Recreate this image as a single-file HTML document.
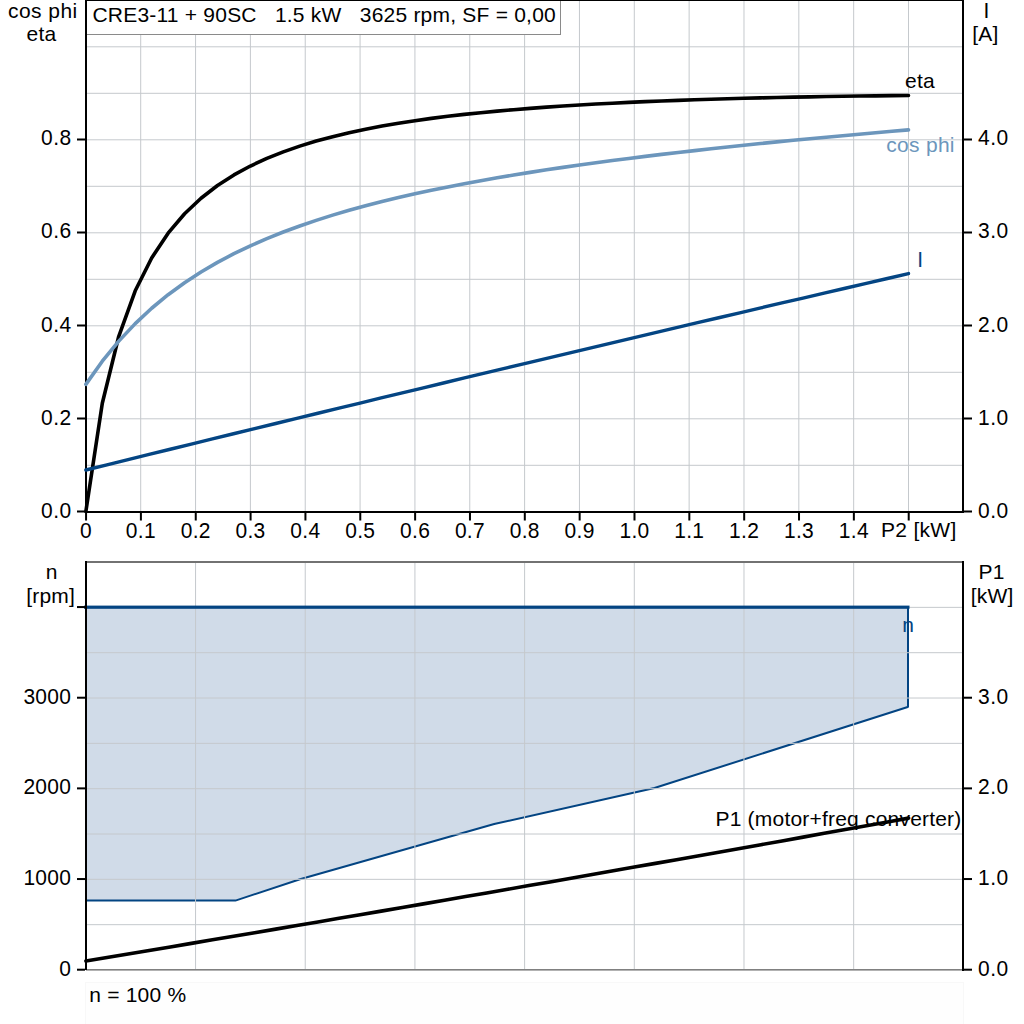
<!DOCTYPE html><html><head><meta charset="utf-8"><title>CRE3-11 + 90SC</title><style>html,body{margin:0;padding:0;background:#fff;overflow:hidden;}svg{display:block;}text{font-family:"Liberation Sans", Arial, sans-serif;font-size:21px;fill:#000;}</style></head><body>
<svg width="1024" height="1024" viewBox="0 0 1024 1024">
<rect x="0" y="0" width="1024" height="1024" fill="#fff"/>
<rect x="140.20" y="0" width="1" height="511" fill="#c5c9cd"/>
<rect x="195.05" y="0" width="1" height="511" fill="#c5c9cd"/>
<rect x="249.89" y="0" width="1" height="511" fill="#c5c9cd"/>
<rect x="304.73" y="0" width="1" height="511" fill="#c5c9cd"/>
<rect x="359.57" y="0" width="1" height="511" fill="#c5c9cd"/>
<rect x="414.42" y="0" width="1" height="511" fill="#c5c9cd"/>
<rect x="469.26" y="0" width="1" height="511" fill="#c5c9cd"/>
<rect x="524.10" y="0" width="1" height="511" fill="#c5c9cd"/>
<rect x="578.95" y="0" width="1" height="511" fill="#c5c9cd"/>
<rect x="633.79" y="0" width="1" height="511" fill="#c5c9cd"/>
<rect x="688.63" y="0" width="1" height="511" fill="#c5c9cd"/>
<rect x="743.48" y="0" width="1" height="511" fill="#c5c9cd"/>
<rect x="798.32" y="0" width="1" height="511" fill="#c5c9cd"/>
<rect x="853.16" y="0" width="1" height="511" fill="#c5c9cd"/>
<rect x="908.00" y="0" width="1" height="511" fill="#c5c9cd"/>
<rect x="87" y="464.80" width="875" height="1" fill="#c5c9cd"/>
<rect x="87" y="418.30" width="875" height="1" fill="#c5c9cd"/>
<rect x="87" y="371.80" width="875" height="1" fill="#c5c9cd"/>
<rect x="87" y="325.30" width="875" height="1" fill="#c5c9cd"/>
<rect x="87" y="278.80" width="875" height="1" fill="#c5c9cd"/>
<rect x="87" y="232.30" width="875" height="1" fill="#c5c9cd"/>
<rect x="87" y="185.80" width="875" height="1" fill="#c5c9cd"/>
<rect x="87" y="139.30" width="875" height="1" fill="#c5c9cd"/>
<rect x="87" y="92.80" width="875" height="1" fill="#c5c9cd"/>
<rect x="87" y="46.30" width="875" height="1" fill="#c5c9cd"/>
<rect x="86" y="0" width="474" height="34" fill="#fff"/>
<rect x="560" y="0" width="1" height="35" fill="#8a8a8a"/>
<rect x="86" y="34" width="475" height="1" fill="#8a8a8a"/>
<text x="92.40" y="22.00" style="letter-spacing:0.22px">CRE3-11 + 90SC&#160;&#160;&#160;1.5 kW&#160;&#160;&#160;3625 rpm, SF = 0,00</text>
<rect x="85" y="0" width="879" height="1" fill="#000"/>
<rect x="85" y="0" width="2" height="513" fill="#000"/>
<rect x="962" y="0" width="2" height="513" fill="#000"/>
<rect x="85" y="511" width="879" height="2" fill="#000"/>
<polyline points="85.86,511.50 102.31,403.25 118.77,336.27 135.22,290.80 151.67,257.95 168.12,233.14 184.58,213.76 201.03,198.24 217.48,185.53 233.94,174.95 250.39,166.03 266.84,158.40 283.29,151.83 299.75,146.10 316.20,141.08 332.65,136.65 349.11,132.72 365.56,129.21 382.01,126.06 398.47,123.23 414.92,120.67 431.37,118.38 447.82,116.31 464.28,114.41 480.73,112.69 497.18,111.11 513.64,109.67 530.09,108.35 546.54,107.14 562.99,106.02 579.45,105.00 595.90,104.05 612.35,103.18 628.81,102.38 645.26,101.65 661.71,100.97 678.16,100.34 694.62,99.76 711.07,99.23 727.52,98.74 743.98,98.29 760.43,97.88 776.88,97.50 793.33,97.16 809.79,96.84 826.24,96.55 842.69,96.29 859.15,96.06 875.60,95.84 892.05,95.65 908.50,95.48" fill="none" stroke="#000000" stroke-width="3.6" stroke-linejoin="round" stroke-linecap="round"/>
<polyline points="85.86,384.37 102.31,361.20 118.77,341.11 135.22,323.61 151.67,308.26 168.12,294.73 184.58,282.73 201.03,272.01 217.48,262.39 233.94,253.70 250.39,245.81 266.84,238.62 283.29,232.03 299.75,225.96 316.20,220.36 332.65,215.15 349.11,210.31 365.56,205.78 382.01,201.53 398.47,197.54 414.92,193.77 431.37,190.24 447.82,186.89 464.28,183.71 480.73,180.68 497.18,177.78 513.64,175.02 530.09,172.37 546.54,169.83 562.99,167.39 579.45,165.03 595.90,162.76 612.35,160.57 628.81,158.45 645.26,156.40 661.71,154.41 678.16,152.47 694.62,150.60 711.07,148.77 727.52,146.99 743.98,145.26 760.43,143.57 776.88,141.91 793.33,140.30 809.79,138.72 826.24,137.18 842.69,135.67 859.15,134.18 875.60,132.73 892.05,131.30 908.50,129.91" fill="none" stroke="#6c96bc" stroke-width="3.6" stroke-linejoin="round" stroke-linecap="round"/>
<polyline points="85.86,470.01 106.95,464.81 128.05,459.61 149.14,454.43 170.23,449.25 191.33,444.08 212.42,438.92 233.51,433.77 254.61,428.63 275.70,423.50 296.79,418.37 317.89,413.26 338.98,408.15 360.07,403.05 381.17,397.96 402.26,392.88 423.35,387.81 444.45,382.75 465.54,377.70 486.63,372.65 507.73,367.62 528.82,362.59 549.91,357.57 571.01,352.56 592.10,347.56 613.19,342.57 634.29,337.58 655.38,332.61 676.47,327.64 697.57,322.69 718.66,317.74 739.75,312.80 760.85,307.87 781.94,302.95 803.03,298.04 824.13,293.13 845.22,288.24 866.31,283.35 887.41,278.47 908.50,273.60" fill="none" stroke="#044583" stroke-width="3.4" stroke-linejoin="round" stroke-linecap="round"/>
<rect x="77" y="510.50" width="8" height="2" fill="#000"/>
<rect x="964" y="510.50" width="8" height="2" fill="#000"/>
<text transform="translate(71.90,518.00) scale(1,1.045)" x="0" y="0" text-anchor="end" style="letter-spacing:0.6px">0.0</text>
<text transform="translate(978.00,518.00) scale(1,1.045)" x="0" y="0" style="letter-spacing:0.5px">0.0</text>
<rect x="77" y="417.50" width="8" height="2" fill="#000"/>
<rect x="964" y="417.50" width="8" height="2" fill="#000"/>
<text transform="translate(71.90,425.00) scale(1,1.045)" x="0" y="0" text-anchor="end" style="letter-spacing:0.6px">0.2</text>
<text transform="translate(978.00,425.00) scale(1,1.045)" x="0" y="0" style="letter-spacing:0.5px">1.0</text>
<rect x="77" y="324.50" width="8" height="2" fill="#000"/>
<rect x="964" y="324.50" width="8" height="2" fill="#000"/>
<text transform="translate(71.90,332.00) scale(1,1.045)" x="0" y="0" text-anchor="end" style="letter-spacing:0.6px">0.4</text>
<text transform="translate(978.00,332.00) scale(1,1.045)" x="0" y="0" style="letter-spacing:0.5px">2.0</text>
<rect x="77" y="231.50" width="8" height="2" fill="#000"/>
<rect x="964" y="231.50" width="8" height="2" fill="#000"/>
<text transform="translate(71.90,238.00) scale(1,1.045)" x="0" y="0" text-anchor="end" style="letter-spacing:0.6px">0.6</text>
<text transform="translate(978.00,238.00) scale(1,1.045)" x="0" y="0" style="letter-spacing:0.5px">3.0</text>
<rect x="77" y="138.50" width="8" height="2" fill="#000"/>
<rect x="964" y="138.50" width="8" height="2" fill="#000"/>
<text transform="translate(71.90,145.00) scale(1,1.045)" x="0" y="0" text-anchor="end" style="letter-spacing:0.6px">0.8</text>
<text transform="translate(978.00,145.00) scale(1,1.045)" x="0" y="0" style="letter-spacing:0.5px">4.0</text>
<rect x="85.06" y="513" width="2" height="7.5" fill="#000"/>
<text transform="translate(86.01,538.00) scale(1,1.045)" x="0" y="0" text-anchor="middle" style="letter-spacing:0.3px">0</text>
<rect x="139.90" y="513" width="2" height="7.5" fill="#000"/>
<text transform="translate(140.85,538.00) scale(1,1.045)" x="0" y="0" text-anchor="middle" style="letter-spacing:0.3px">0.1</text>
<rect x="194.75" y="513" width="2" height="7.5" fill="#000"/>
<text transform="translate(195.70,538.00) scale(1,1.045)" x="0" y="0" text-anchor="middle" style="letter-spacing:0.3px">0.2</text>
<rect x="249.59" y="513" width="2" height="7.5" fill="#000"/>
<text transform="translate(250.54,538.00) scale(1,1.045)" x="0" y="0" text-anchor="middle" style="letter-spacing:0.3px">0.3</text>
<rect x="304.43" y="513" width="2" height="7.5" fill="#000"/>
<text transform="translate(305.38,538.00) scale(1,1.045)" x="0" y="0" text-anchor="middle" style="letter-spacing:0.3px">0.4</text>
<rect x="359.27" y="513" width="2" height="7.5" fill="#000"/>
<text transform="translate(360.22,538.00) scale(1,1.045)" x="0" y="0" text-anchor="middle" style="letter-spacing:0.3px">0.5</text>
<rect x="414.12" y="513" width="2" height="7.5" fill="#000"/>
<text transform="translate(415.07,538.00) scale(1,1.045)" x="0" y="0" text-anchor="middle" style="letter-spacing:0.3px">0.6</text>
<rect x="468.96" y="513" width="2" height="7.5" fill="#000"/>
<text transform="translate(469.91,538.00) scale(1,1.045)" x="0" y="0" text-anchor="middle" style="letter-spacing:0.3px">0.7</text>
<rect x="523.80" y="513" width="2" height="7.5" fill="#000"/>
<text transform="translate(524.75,538.00) scale(1,1.045)" x="0" y="0" text-anchor="middle" style="letter-spacing:0.3px">0.8</text>
<rect x="578.65" y="513" width="2" height="7.5" fill="#000"/>
<text transform="translate(579.60,538.00) scale(1,1.045)" x="0" y="0" text-anchor="middle" style="letter-spacing:0.3px">0.9</text>
<rect x="633.49" y="513" width="2" height="7.5" fill="#000"/>
<text transform="translate(634.44,538.00) scale(1,1.045)" x="0" y="0" text-anchor="middle" style="letter-spacing:0.3px">1.0</text>
<rect x="688.33" y="513" width="2" height="7.5" fill="#000"/>
<text transform="translate(689.28,538.00) scale(1,1.045)" x="0" y="0" text-anchor="middle" style="letter-spacing:0.3px">1.1</text>
<rect x="743.18" y="513" width="2" height="7.5" fill="#000"/>
<text transform="translate(744.13,538.00) scale(1,1.045)" x="0" y="0" text-anchor="middle" style="letter-spacing:0.3px">1.2</text>
<rect x="798.02" y="513" width="2" height="7.5" fill="#000"/>
<text transform="translate(798.97,538.00) scale(1,1.045)" x="0" y="0" text-anchor="middle" style="letter-spacing:0.3px">1.3</text>
<rect x="852.86" y="513" width="2" height="7.5" fill="#000"/>
<text transform="translate(853.81,538.00) scale(1,1.045)" x="0" y="0" text-anchor="middle" style="letter-spacing:0.3px">1.4</text>
<rect x="907.71" y="513" width="2" height="7.5" fill="#000"/>
<text x="881.00" y="537.30" style="letter-spacing:0.3px">P2 [kW]</text>
<text x="42.83" y="18.00" text-anchor="middle" style="letter-spacing:0.45px">cos phi</text>
<text x="41.40" y="41.00" text-anchor="middle" style="letter-spacing:0.2px">eta</text>
<text transform="translate(986.40,17.60) scale(1,1.045)" x="0" y="0" text-anchor="middle" style="letter-spacing:0.2px">I</text>
<text x="985.45" y="41.00" text-anchor="middle" style="letter-spacing:0.3px">[A]</text>
<text x="905.00" y="88.00" style="letter-spacing:0.2px">eta</text>
<text x="886.20" y="152.00" style="letter-spacing:0.3px;fill:#6c96bc">cos phi</text>
<text transform="translate(917.20,267.00) scale(1,1.045)" x="0" y="0" style="letter-spacing:0.2px;fill:#044583">I</text>
<polygon points="86,607 908.5,607 908.5,706.8 654.5,788.0 494.2,824.0 300,879.2 235.5,900.6 86,900.6" fill="#d0dbe8"/>
<polyline points="908.50,706.80 654.50,788.00 494.20,824.00 300.00,879.20 235.50,900.60 86.00,900.60" fill="none" stroke="#034482" stroke-width="2" stroke-linejoin="miter" stroke-linecap="butt"/>
<rect x="907" y="607" width="2" height="100" fill="#034482"/>
<rect x="195.05" y="563" width="1" height="406" fill="#c5c9cd"/>
<rect x="304.73" y="563" width="1" height="406" fill="#c5c9cd"/>
<rect x="414.42" y="563" width="1" height="406" fill="#c5c9cd"/>
<rect x="524.10" y="563" width="1" height="406" fill="#c5c9cd"/>
<rect x="633.79" y="563" width="1" height="406" fill="#c5c9cd"/>
<rect x="743.48" y="563" width="1" height="406" fill="#c5c9cd"/>
<rect x="853.16" y="563" width="1" height="406" fill="#c5c9cd"/>
<rect x="87" y="924.17" width="875" height="1" fill="#c5c9cd"/>
<rect x="87" y="878.84" width="875" height="1" fill="#c5c9cd"/>
<rect x="87" y="833.51" width="875" height="1" fill="#c5c9cd"/>
<rect x="87" y="788.18" width="875" height="1" fill="#c5c9cd"/>
<rect x="87" y="742.85" width="875" height="1" fill="#c5c9cd"/>
<rect x="87" y="697.52" width="875" height="1" fill="#c5c9cd"/>
<rect x="87" y="652.19" width="875" height="1" fill="#c5c9cd"/>
<rect x="87" y="606.86" width="875" height="1" fill="#c5c9cd"/>
<rect x="84" y="605.6" width="825.5" height="3.2" fill="#034482"/>
<polyline points="85.90,961.05 106.99,957.53 128.09,954.01 149.18,950.48 170.28,946.94 191.37,943.40 212.47,939.84 233.56,936.28 254.66,932.71 275.75,929.13 296.85,925.55 317.94,921.95 339.04,918.35 360.13,914.74 381.23,911.12 402.32,907.50 423.42,903.87 444.51,900.22 465.61,896.58 486.70,892.92 507.80,889.25 528.89,885.58 549.99,881.90 571.08,878.21 592.18,874.52 613.27,870.81 634.37,867.10 655.46,863.38 676.56,859.65 697.65,855.92 718.75,852.17 739.84,848.42 760.94,844.66 782.03,840.90 803.13,837.12 824.22,833.34 845.32,829.55 866.41,825.75 887.51,821.94 908.60,818.13" fill="none" stroke="#000" stroke-width="3.6" stroke-linejoin="round" stroke-linecap="round"/>
<rect x="86" y="561" width="877" height="2" fill="#727272"/>
<rect x="86" y="969" width="877" height="1.6" fill="#808080"/>
<rect x="85" y="561" width="2" height="409" fill="#000"/>
<rect x="962" y="561" width="2" height="410" fill="#000"/>
<rect x="77" y="968.70" width="8" height="2" fill="#000"/>
<text transform="translate(71.30,976.00) scale(1,1.045)" x="0" y="0" text-anchor="end" style="letter-spacing:0.3px">0</text>
<rect x="77" y="878.04" width="8" height="2" fill="#000"/>
<text transform="translate(71.30,885.00) scale(1,1.045)" x="0" y="0" text-anchor="end" style="letter-spacing:0.3px">1000</text>
<rect x="77" y="787.38" width="8" height="2" fill="#000"/>
<text transform="translate(71.30,794.00) scale(1,1.045)" x="0" y="0" text-anchor="end" style="letter-spacing:0.3px">2000</text>
<rect x="77" y="696.72" width="8" height="2" fill="#000"/>
<text transform="translate(71.30,704.00) scale(1,1.045)" x="0" y="0" text-anchor="end" style="letter-spacing:0.3px">3000</text>
<rect x="77" y="606.06" width="8" height="2" fill="#000"/>
<rect x="964" y="968.70" width="8" height="2" fill="#000"/>
<text transform="translate(978.00,976.00) scale(1,1.045)" x="0" y="0" style="letter-spacing:0.5px">0.0</text>
<rect x="964" y="878.04" width="8" height="2" fill="#000"/>
<text transform="translate(978.00,885.00) scale(1,1.045)" x="0" y="0" style="letter-spacing:0.5px">1.0</text>
<rect x="964" y="787.38" width="8" height="2" fill="#000"/>
<text transform="translate(978.00,794.00) scale(1,1.045)" x="0" y="0" style="letter-spacing:0.5px">2.0</text>
<rect x="964" y="696.72" width="8" height="2" fill="#000"/>
<text transform="translate(978.00,704.00) scale(1,1.045)" x="0" y="0" style="letter-spacing:0.5px">3.0</text>
<text x="51.60" y="579.00" text-anchor="middle" style="letter-spacing:0.2px">n</text>
<text x="50.70" y="603.00" text-anchor="middle" style="letter-spacing:0.2px">[rpm]</text>
<text x="991.65" y="579.00" text-anchor="middle" style="letter-spacing:0.3px">P1</text>
<text x="992.10" y="603.00" text-anchor="middle" style="letter-spacing:0.2px">[kW]</text>
<text x="902.30" y="632.00" style="letter-spacing:0.2px;fill:#034482">n</text>
<text x="715.50" y="826.00" style="letter-spacing:0.2px">P1 (motor+freq converter)</text>
<rect x="85.5" y="982.5" width="878" height="60" fill="#fefefe" stroke="#f8f8f8" stroke-width="1"/>
<text x="89.30" y="1002.00" style="letter-spacing:0.2px">n = 100 %</text>
</svg></body></html>
